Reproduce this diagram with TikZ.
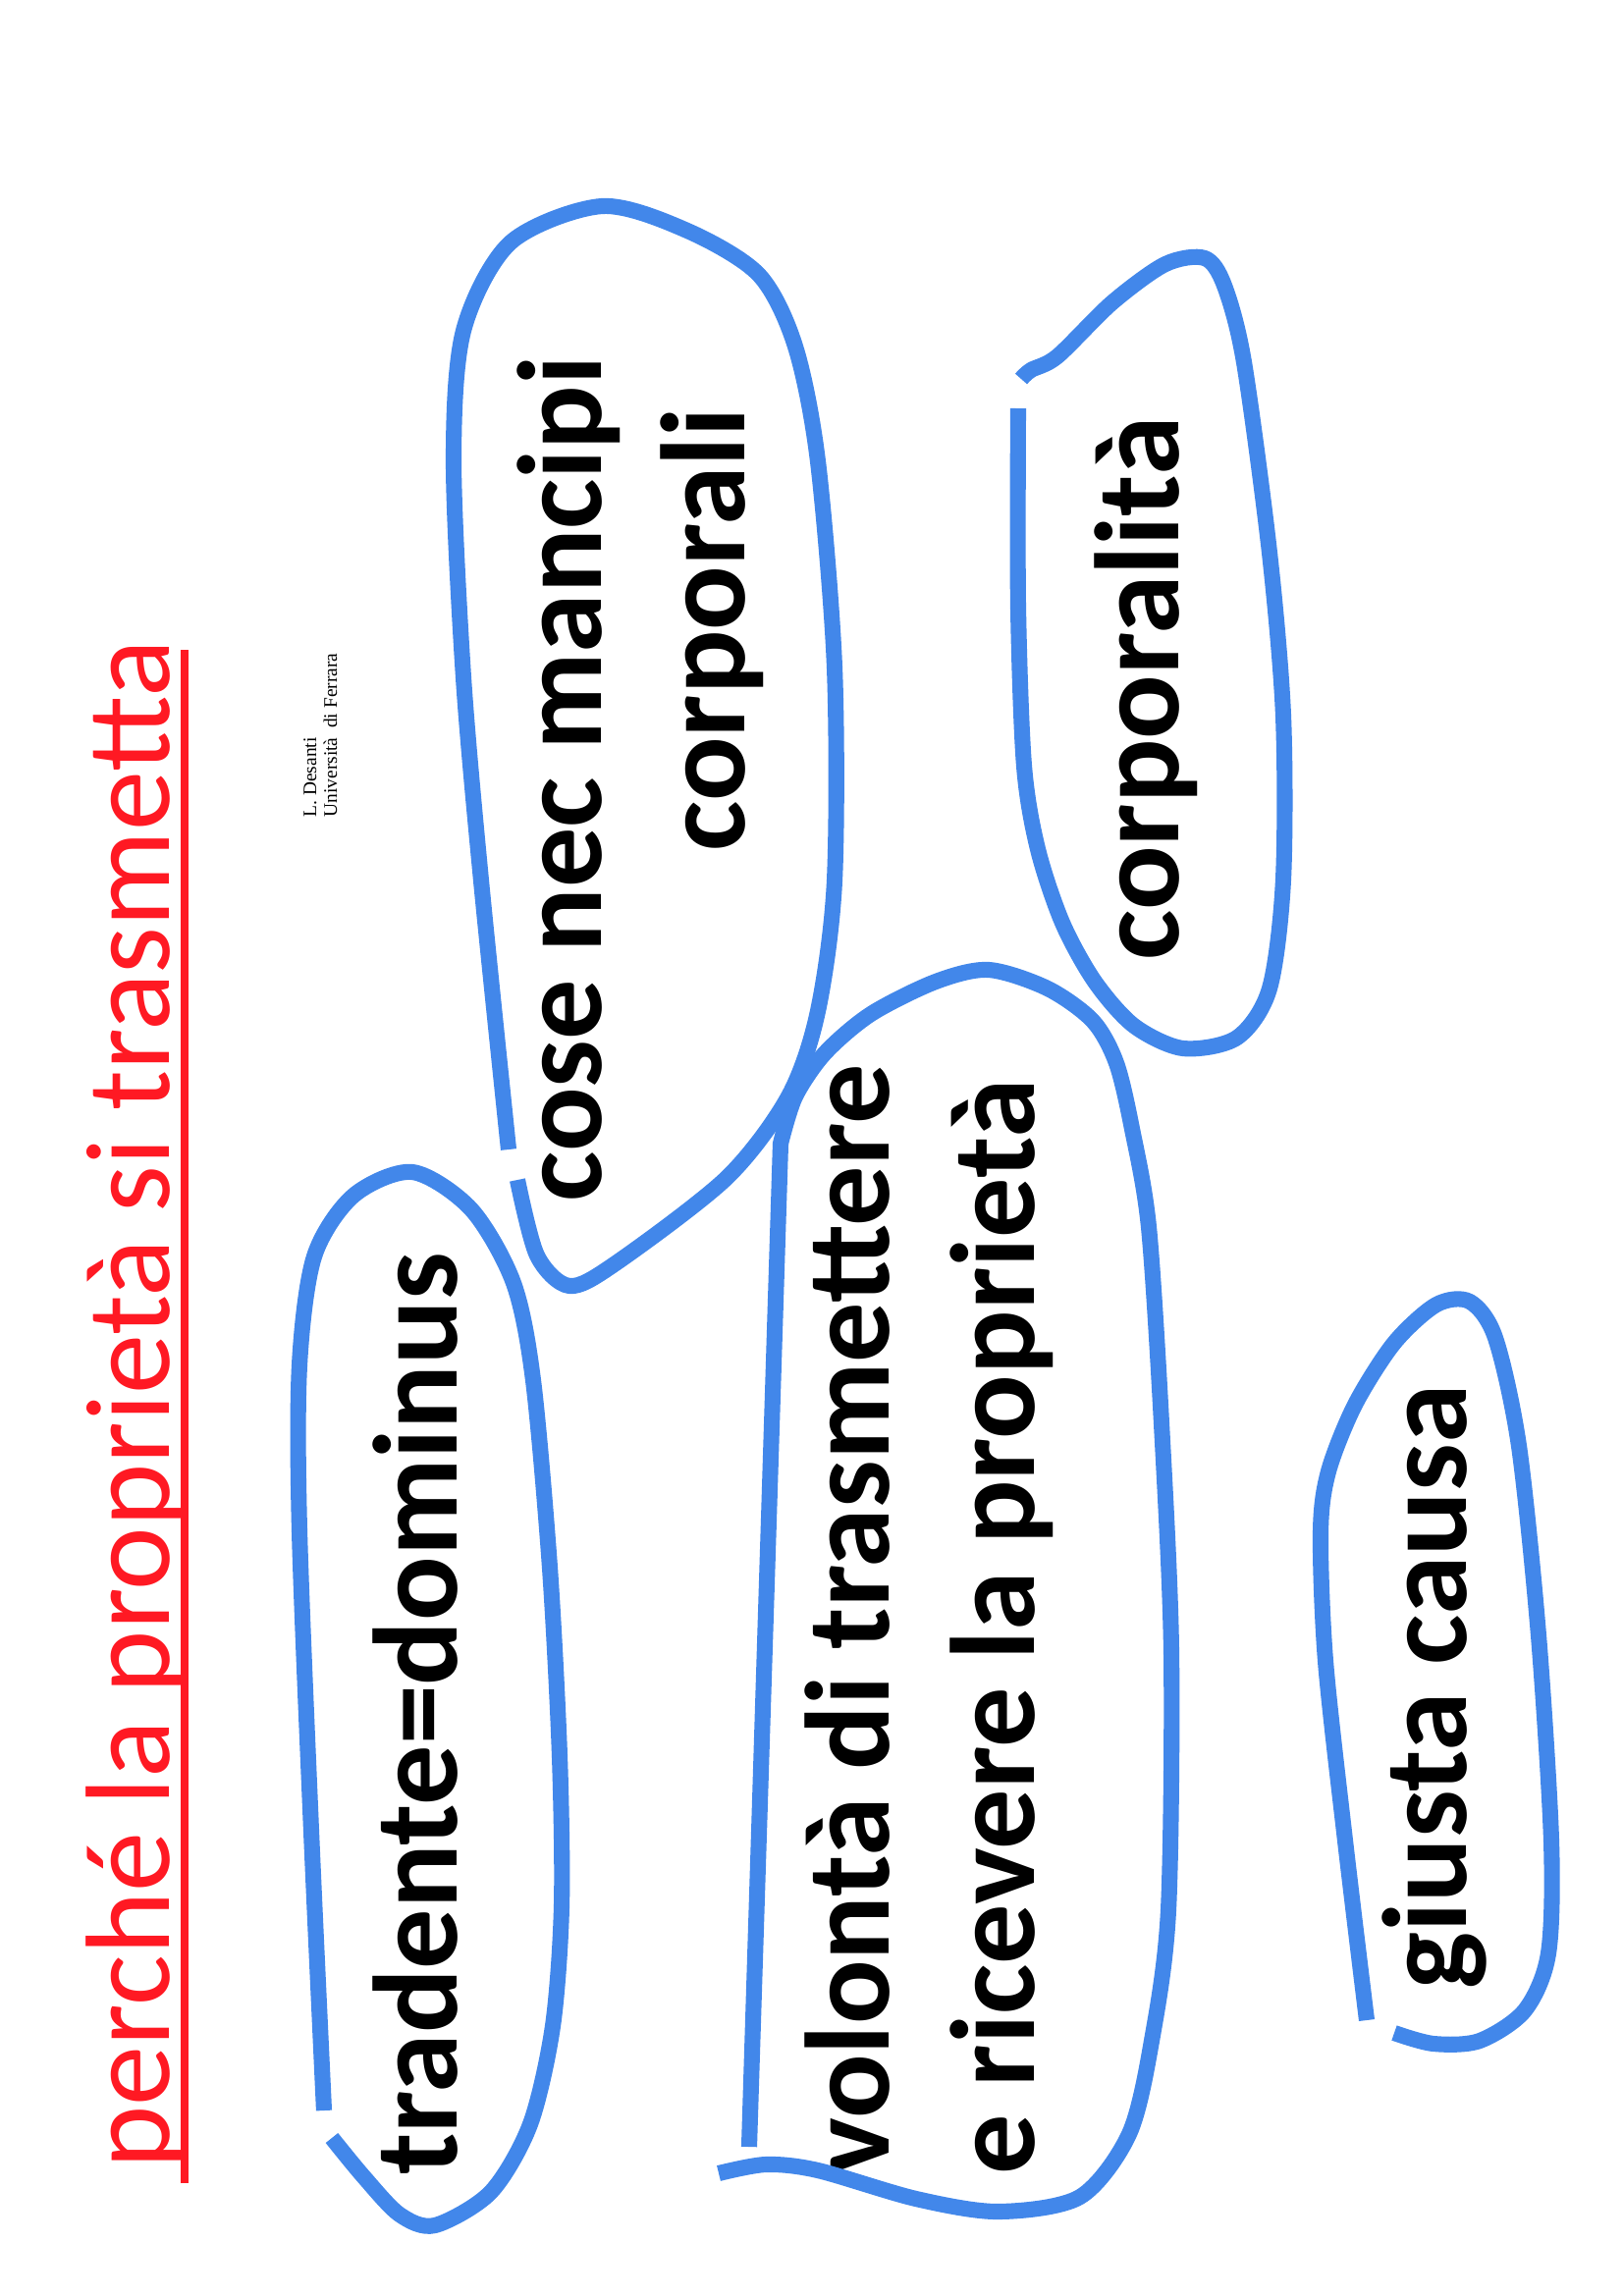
\documentclass[tikz,border=0pt]{standalone}
\usepackage{fontspec}
\setmainfont{Carlito}
\newfontfamily\desantifont{Liberation Serif}
\usepackage{xcolor}
\usepackage{tikz}
\usetikzlibrary{positioning}
\definecolor{ringblue}{RGB}{66,135,234}
\definecolor{titlered}{RGB}{255,25,35}

\begin{document}
\begin{tikzpicture}
[x=0.36pt, y=-0.36pt]
\tikzset{
	titletext/.style = {text=titlered, font=\fontsize{44}{53}\selectfont, rotate=90, anchor=base west, inner sep=0},
	boxtext/.style = {font=\bfseries\fontsize{44}{53}\selectfont, rotate=90, anchor=base west, inner sep=0},
	signature/.style = {font=\desantifont\fontsize{7}{7.6}\selectfont, rotate=90, anchor=base west, inner sep=0},
	ring/.style = {draw=ringblue, line width=5.8pt, line join=round},
	underbar/.style = {draw=titlered, line width=2.9pt}
}
\useasboundingbox [fill=white] (0,0) rectangle (1653,2339);

\node (title) [titletext] at (172,2210) {perché la proprietà si trasmetta};
\coordinate (ul1) at (188,2224);
\coordinate (ul2) at (188,662);
\draw [underbar] (ul1) -- (ul2);

\node (sig1) [signature] at (322,833) {L. Desanti};
\node (sig2) [signature] at (343,833) {Università~ di Ferrara};

\node (trad) [boxtext] at (465,2216) {tradente=dominus};
\node (cose1) [boxtext] at (612,1225) {cose nec mancipi};
\node (cose2) [boxtext] at (758,868) {corporali};
\node (vol1) [boxtext] at (905,2216) {volontà di trasmettere};
\node (vol2) [boxtext] at (1053,2216) {e ricevere la proprietà};
\node (corp) [boxtext] at (1200,979) {corporalità};
\node (causa) [boxtext] at (1493,2027) {giusta causa};

\draw [ring] plot [smooth] coordinates {(330,2150) (317,1865) (305,1559) (305,1391) (320,1280) (360,1218) (420,1194) (480,1232) (523,1307) (543,1406) (560,1597) (570,1789) (572,1942) (563,2064) (540,2164) (500,2233) (443,2267) (407,2256) (370,2217) (338,2178)};

\draw [ring] plot [smooth] coordinates {(518,1171) (490,897) (472,690) (462,470) (472,337) (520,247) (613,210) (700,235) (773,280) (810,353) (833,470) (850,680) (850,897) (833,1030) (803,1117) (740,1200) (627,1287) (580,1310) (547,1279) (527,1202)};

\draw [ring] plot [smooth] coordinates {(1037,416) (1037,618) (1043,780) (1057,865) (1082,940) (1115,1000) (1155,1045) (1205,1068) (1260,1057) (1293,1007) (1307,896) (1307,729) (1293,563) (1267,369) (1247,291) (1227,263) (1187,269) (1133,308) (1077,363) (1050,377) (1040,386)};

\draw [ring] (763,2187) -- plot [smooth] coordinates {(795,1165) (810,1117) (840,1073) (887,1033) (953,1000) (1007,988) (1067,1007) (1113,1040) (1137,1083) (1153,1150) (1170,1250) (1183,1450) (1193,1682) (1190,1946) (1173,2079) (1150,2174) (1100,2238) (1017,2253) (933,2240) (833,2211) (780,2205) (732,2214)};

\draw [ring] plot [smooth] coordinates {(1392,2058) (1370,1875) (1350,1692) (1345,1561) (1353,1499) (1380,1431) (1420,1368) (1463,1329) (1497,1326) (1523,1363) (1547,1473) (1567,1666) (1580,1875) (1577,1990) (1553,2048) (1507,2079) (1460,2082) (1420,2071)};
\end{tikzpicture}
\end{document}
